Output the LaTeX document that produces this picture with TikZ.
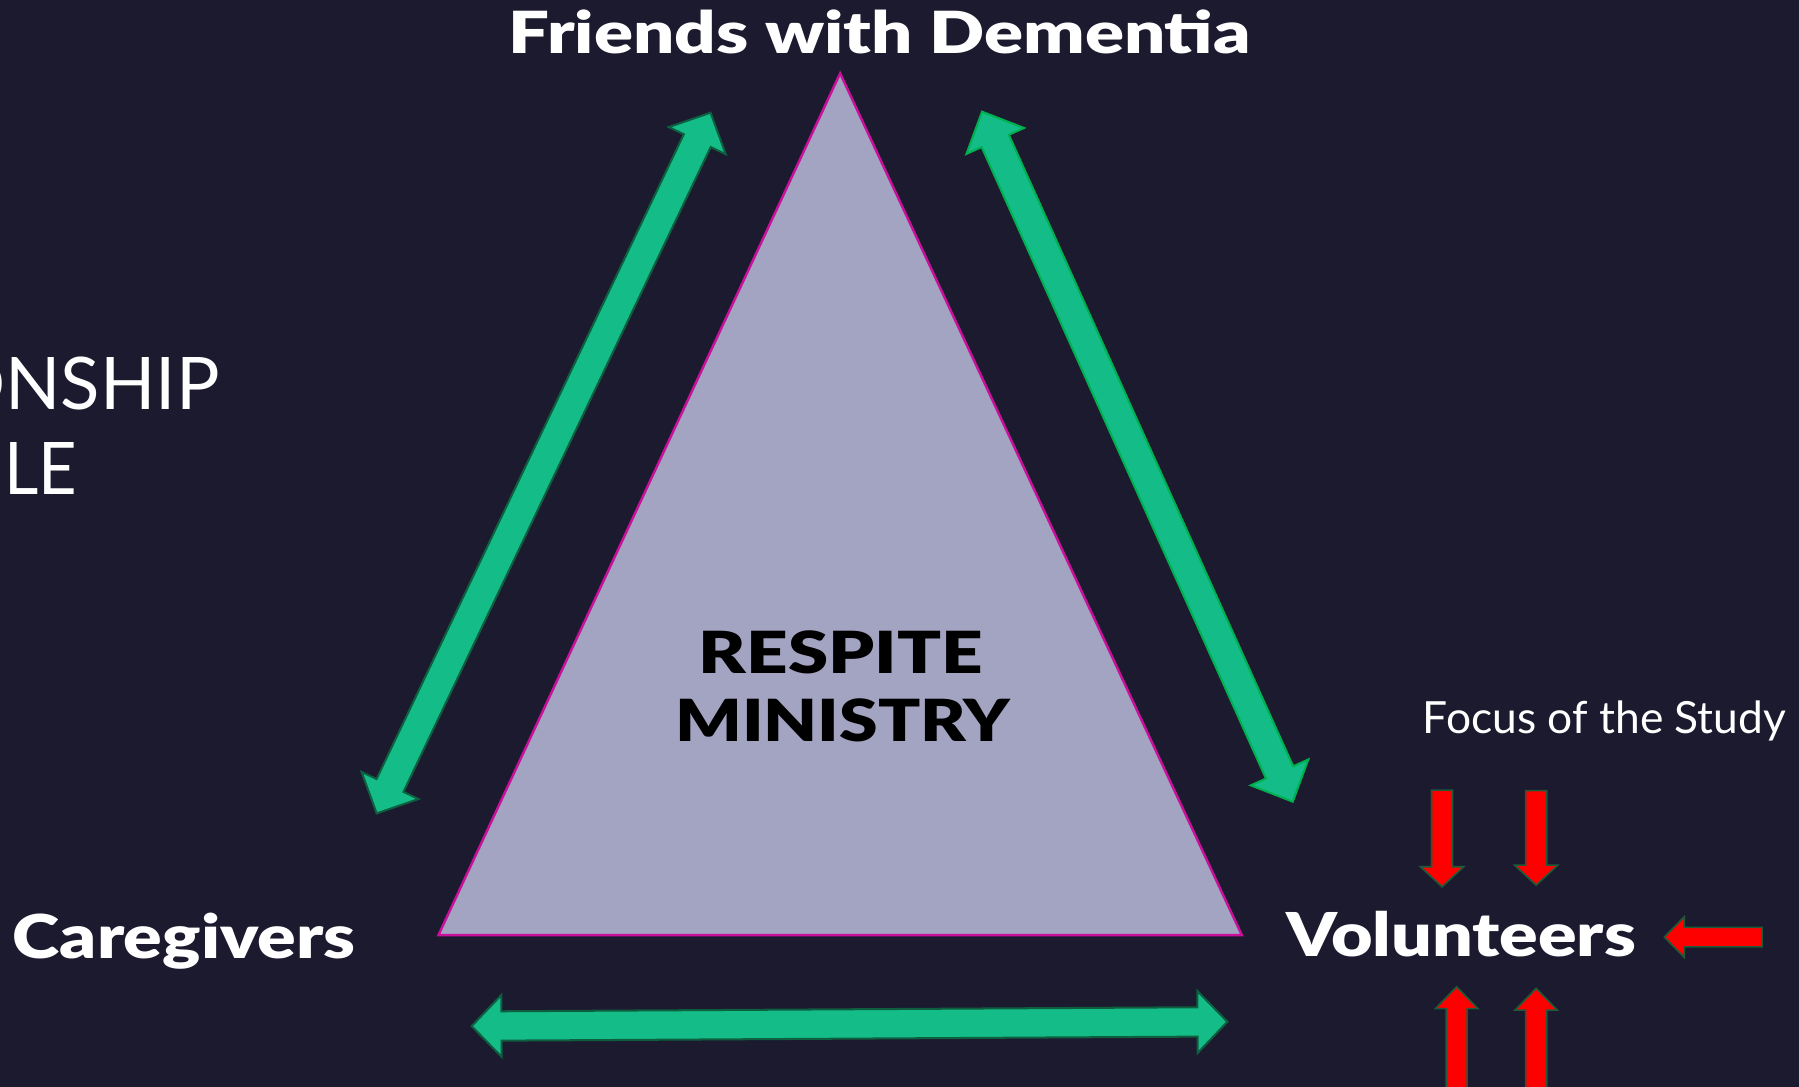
\documentclass[tikz,border=0pt]{standalone}
\usepackage{fontspec}
\setmainfont{Lato}
\newfontfamily\heavy{Lato Black}
\usepackage{graphicx}
\usepackage{tikz}
\usetikzlibrary{calc,positioning}

\definecolor{slidebg}{HTML}{1C1A2E}
\definecolor{trifill}{HTML}{A3A3C2}
\definecolor{triline}{HTML}{C8109A}
\definecolor{linkfill}{HTML}{14BD88}
\definecolor{linkdark}{HTML}{0E5E40}
\definecolor{linklight}{HTML}{00B050}
\definecolor{focusred}{HTML}{FF0000}
\definecolor{focusline}{HTML}{1E5A3A}

% wide heavy lettering
\newcommand{\widen}[2]{\scalebox{#1}[1]{#2}}
% block arrow with two heads: style, end, end, half shaft, half head, head length
\newcommand{\twoway}[6]{%
  \draw[#1] (#2) -- ($(#2)!#6!(#3)!#5!90:(#3)$) -- ($(#2)!#6!(#3)!#4!90:(#3)$)
    -- ($(#3)!#6!(#2)!#4!-90:(#2)$) -- ($(#3)!#6!(#2)!#5!-90:(#2)$) -- (#3)
    -- ($(#3)!#6!(#2)!#5!90:(#2)$) -- ($(#3)!#6!(#2)!#4!90:(#2)$)
    -- ($(#2)!#6!(#3)!#4!-90:(#3)$) -- ($(#2)!#6!(#3)!#5!-90:(#3)$) -- cycle;}
% block arrow with one head: style, tail, tip, half shaft, half head, head length
\newcommand{\oneway}[6]{%
  \draw[#1] ($(#2)!#4!90:(#3)$) -- ($(#3)!#6!(#2)!#4!-90:(#2)$) -- ($(#3)!#6!(#2)!#5!-90:(#2)$)
    -- (#3) -- ($(#3)!#6!(#2)!#5!90:(#2)$) -- ($(#3)!#6!(#2)!#4!90:(#2)$)
    -- ($(#2)!#4!-90:(#3)$) -- cycle;}

\begin{document}
\begin{tikzpicture}[scale=0.1]
		\tikzstyle{every node}+=[inner sep=0pt, text=white]
		\tikzstyle{person}=[font=\fontsize{15}{18}\selectfont\heavy]
		\tikzstyle{link}=[fill=linkfill, draw=linkdark, line width=0.5pt, line join=miter]
		\tikzstyle{focus}=[fill=focusred, draw=focusline, line width=0.4pt, line join=miter]
		\useasboundingbox (0,0) rectangle (156.8,-94.7);
		\fill [slidebg] (0,0) rectangle (156.8,-94.7);
		\clip (0,0) rectangle (156.8,-94.7);
		% title text running off the left edge
		\node [anchor=base east, font=\fontsize{18}{22}\selectfont] (rel1) at (19.2,-35.7) {ONSHIP};
		\node [anchor=base west, font=\fontsize{18}{22}\selectfont] (rel2) at (0.3,-43.1) {\widen{0.92}{LE}};
		% the triangle
		\coordinate (top) at (73.22,-6.39);
		\coordinate (left) at (38.21,-81.5);
		\coordinate (right) at (108.23,-81.5);
		\draw [triline, fill=trifill, line width=0.6pt, line join=miter] (top) -- (left) -- (right) -- cycle;
		\node [person, font=\fontsize{14.4}{17}\selectfont\heavy, text=black, anchor=base] (respite) at (73.3,-58.7) {\widen{1.25}{RESPITE}};
		\node [person, font=\fontsize{14.4}{17}\selectfont\heavy, text=black, anchor=base] (ministry) at (73.45,-64.64) {\widen{1.2}{MINISTRY}};
		% the three corners
		\node [person, font=\fontsize{14.4}{17}\selectfont\heavy, anchor=base] (friends) at (76.68,-4.65) {\widen{1.248}{Friends with Dementia}};
		\node [person, anchor=base] (caregivers) at (16.05,-83.5) {\widen{1.186}{Caregivers}};
		\node [person, anchor=base] (volunteers) at (127.35,-83.4) {\widen{1.185}{Volunteers}};
		\node [anchor=base, font=\fontsize{11}{13}\selectfont] (focus) at (139.85,-63.9) {Focus of the Study};
		% green links
		\coordinate (fc1) at (61.93,-9.82);
		\coordinate (fc2) at (32.83,-70.89);
		\coordinate (fv1) at (85.59,-9.73);
		\coordinate (fv2) at (112.67,-69.87);
		\coordinate (cv1) at (41.11,-89.43);
		\coordinate (cv2) at (106.97,-89.05);
		\twoway{link}{fc1}{fc2}{1.3cm}{2.75cm}{2.7cm}
		\twoway{link, draw=linklight}{fv1}{fv2}{1.3cm}{2.75cm}{2.8cm}
		\twoway{link}{cv1}{cv2}{1.28cm}{2.7cm}{2.6cm}
		% red arrows round the volunteers
		\coordinate (d1a) at (125.68,-68.86);
		\coordinate (d1b) at (125.68,-77.28);
		\coordinate (d2a) at (133.88,-68.9);
		\coordinate (d2b) at (133.88,-77.14);
		\coordinate (la) at (153.57,-81.67);
		\coordinate (lb) at (145.05,-81.67);
		\coordinate (u1a) at (126.95,-96);
		\coordinate (u1b) at (126.95,-86.0);
		\coordinate (u2a) at (133.88,-96);
		\coordinate (u2b) at (133.88,-86.14);
		\oneway{focus}{d1a}{d1b}{0.92cm}{1.88cm}{1.74cm}
		\oneway{focus}{d2a}{d2b}{0.92cm}{1.88cm}{1.74cm}
		\oneway{focus}{la}{lb}{0.85cm}{1.77cm}{1.74cm}
		\oneway{focus}{u1a}{u1b}{0.92cm}{1.85cm}{1.9cm}
		\oneway{focus}{u2a}{u2b}{0.92cm}{1.85cm}{1.9cm}
	\end{tikzpicture}
\end{document}
